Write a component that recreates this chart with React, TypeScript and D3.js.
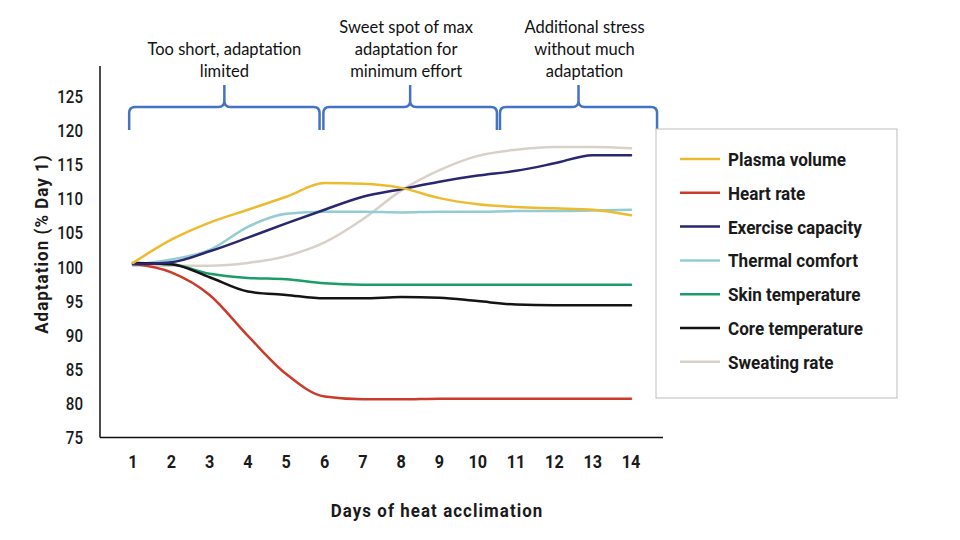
import React from "react";
import * as d3 from "d3";

const days = [1, 2, 3, 4, 5, 6, 7, 8, 9, 10, 11, 12, 13, 14];
const yTicks = [75, 80, 85, 90, 95, 100, 105, 110, 115, 120, 125];

const plasmaVolume = [100.6, 104.0, 106.5, 108.4, 110.3, 112.3, 112.2, 111.6, 110.1, 109.2, 108.8, 108.6, 108.4, 107.6];
const heartRate = [100.5, 99.2, 95.9, 89.9, 84.3, 81.0, 80.6, 80.6, 80.7, 80.7, 80.7, 80.7, 80.7, 80.7];
const exerciseCapacity = [100.4, 100.7, 102.3, 104.3, 106.4, 108.4, 110.3, 111.4, 112.5, 113.4, 114.1, 115.2, 116.4, 116.4];
const thermalComfort = [100.3, 101.1, 102.5, 105.9, 107.8, 108.1, 108.1, 108.0, 108.1, 108.1, 108.2, 108.2, 108.3, 108.4];
const skinTemperature = [100.6, 100.4, 99.0, 98.4, 98.2, 97.6, 97.4, 97.4, 97.4, 97.4, 97.4, 97.4, 97.4, 97.4];
const coreTemperature = [100.6, 100.4, 98.5, 96.4, 95.9, 95.4, 95.4, 95.6, 95.5, 95.0, 94.5, 94.4, 94.4, 94.4];
const sweatingRate = [100.2, 100.2, 100.2, 100.6, 101.6, 103.6, 107.0, 111.2, 114.2, 116.3, 117.2, 117.6, 117.6, 117.4];

const seriesNames = ["Plasma volume", "Heart rate", "Exercise capacity", "Thermal comfort", "Skin temperature", "Core temperature", "Sweating rate"];
const seriesValues = [plasmaVolume, heartRate, exerciseCapacity, thermalComfort, skinTemperature, coreTemperature, sweatingRate];
const seriesColors = ["#EDBB2F", "#CC3B2A", "#28276F", "#93CCD3", "#1B9C6B", "#141414", "#D9D1C7"];
// draw order (back to front)
const drawOrder = [6, 3, 4, 5, 1, 2, 0];

const phaseLabels = [
  ["Too short, adaptation", "limited"],
  ["Sweet spot of max", "adaptation for", "minimum effort"],
  ["Additional stress", "without much", "adaptation"],
];
const phaseStart = [0.9, 5.97, 10.58];
const phaseEnd = [5.87, 10.5, 14.68];

const xTitle = "Days of heat acclimation";
const yTitle = "Adaptation (% Day 1)";

const narrow = "Roboto, 'DejaVu Sans', sans-serif";

function CText(props: {
  x: number;
  y: number;
  sx: number;
  rotate?: number;
  anchor?: string;
  size: number;
  weight?: string | number;
  spacing?: number;
  children: React.ReactNode;
}) {
  const { x, y, sx, rotate = 0, anchor = "start", size, weight = 400, spacing = 0, children } = props;
  return (
    <g transform={`translate(${x},${y}) rotate(${rotate}) scale(${sx},1)`}>
      <text
        x={0}
        y={0}
        textAnchor={anchor}
        fontFamily={narrow}
        fontWeight={weight}
        fontSize={size}
        letterSpacing={spacing}
        fill="#1a1a1a"
      >
        {children}
      </text>
    </g>
  );
}

export default function App() {
  const W = 960;
  const H = 540;
  const x = d3.scaleLinear().domain([1, 14]).range([133, 631]);
  const y = d3.scaleLinear().domain([75, 125]).range([437.5, 96.5]);
  const line = d3
    .line<number>()
    .x((_, i) => x(days[i]))
    .y((d) => y(d))
    .curve(d3.curveMonotoneX);

  const braceY = 107;
  const braceBottom = 130;
  const braceTip = 85;
  const r = 6;
  const bracePath = (x0: number, x1: number) => {
    const m = (x0 + x1) / 2;
    return [
      `M${x0},${braceBottom}`,
      `L${x0},${braceY + r}`,
      `Q${x0},${braceY} ${x0 + r},${braceY}`,
      `L${m - r},${braceY}`,
      `Q${m},${braceY} ${m},${braceY - r}`,
      `L${m},${braceTip}`,
      `M${m},${braceY - r}`,
      `Q${m},${braceY} ${m + r},${braceY}`,
      `L${x1 - r},${braceY}`,
      `Q${x1},${braceY} ${x1},${braceY + r}`,
      `L${x1},${braceBottom}`,
    ].join(" ");
  };

  const legendX = 656;
  const legendY = 129;
  const rowH = 33.8;

  return (
    <svg width={W} height={H} style={{ position: "absolute", left: 0, top: 0, background: "#fff" }}>
      <rect x={0} y={0} width={W} height={H} fill="#fff" />
      {/* braces and phase labels */}
      {phaseLabels.map((lines, i) => {
        const x0 = x(phaseStart[i]);
        const x1 = x(phaseEnd[i]);
        const m = (x0 + x1) / 2;
        const firstY = 71 - (lines.length - 1) * 22;
        return (
          <g key={i}>
            <path d={bracePath(x0, x1)} fill="none" stroke="#4472C4" strokeWidth={2.5} />
            {lines.map((t, j) => (
              <text
                key={j}
                x={m + (i === 0 ? 0 : i === 1 ? -4 : 6)}
                y={firstY + j * 22 + 5.5}
                textAnchor="middle"
                fontFamily="Lato, 'Open Sans', sans-serif"
                fontSize={16.5}
                fill="#111"
              >
                {t}
              </text>
            ))}
          </g>
        );
      })}

      {/* axes */}
      <line x1={100} x2={100} y1={66} y2={437.5} stroke="#111" strokeWidth={1.5} />
      <line x1={100} x2={663} y1={437.5} y2={437.5} stroke="#111" strokeWidth={1.5} />
      {yTicks.map((t) => (
        <CText key={t} x={83} y={y(t) + 6.5} sx={0.84} anchor="end" size={18} weight={500}>
          {t}
        </CText>
      ))}
      {days.map((d) => (
        <CText key={d} x={x(d)} y={468} sx={0.9} anchor="middle" size={18} weight={700}>
          {d}
        </CText>
      ))}
      <CText x={437} y={517} sx={0.89} anchor="middle" size={19} weight={700} spacing={1.2}>
        {xTitle}
      </CText>
      <CText x={48} y={244} rotate={-90} sx={0.89} anchor="middle" size={19} weight={700} spacing={1.2}>
        {yTitle}
      </CText>

      {/* lines */}
      {drawOrder.map((i) => (
        <path key={i} d={line(seriesValues[i]) || ""} fill="none" stroke={seriesColors[i]} strokeWidth={2.5} strokeLinecap="round" />
      ))}

      {/* legend */}
      <rect x={legendX} y={legendY} width={241} height={269} fill="#fff" stroke="#bdbdbd" strokeWidth={1} />
      {seriesNames.map((n, i) => (
        <g key={n} transform={`translate(0, ${legendY + 30 + i * rowH})`}>
          <line x1={680} x2={720} y1={0} y2={0} stroke={seriesColors[i]} strokeWidth={2.5} />
          <CText x={728} y={7} sx={0.9} size={19} weight={700}>
            {n}
          </CText>
        </g>
      ))}
    </svg>
  );
}
